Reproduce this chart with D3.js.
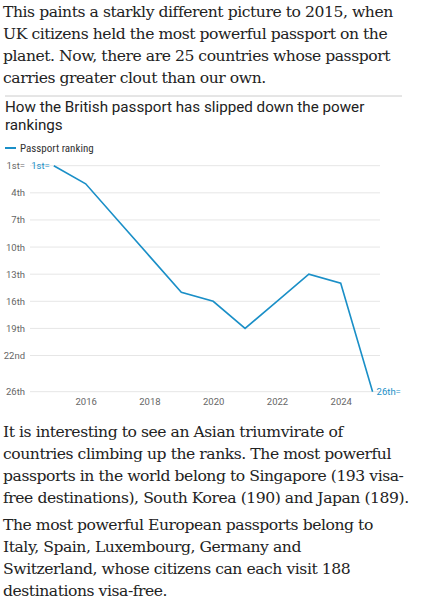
<!DOCTYPE html>
<html><head><meta charset="utf-8">
<script src="https://cdn.jsdelivr.net/npm/d3@7"></script>
<style>
body{margin:0;background:#fff;width:428px;height:600px;overflow:hidden;position:relative}
.p{position:absolute;left:3px;font-family:"DejaVu Serif",serif;font-size:15.6px;line-height:22px;color:#222;white-space:nowrap;letter-spacing:-0.45px}
</style></head><body>
<div class="p" style="top:1px">This paints a starkly different picture to 2015, when<br>UK citizens held the most powerful passport on the<br>planet. Now, there are 25 countries whose passport<br>carries greater clout than our own.</div>
<div id="chart" style="position:absolute;left:0;top:92px"></div>
<div class="p" style="top:421px">It is interesting to see an Asian triumvirate of<br>countries climbing up the ranks. The most powerful<br>passports in the world belong to Singapore (193 visa-<br>free destinations), South Korea (190) and Japan (189).</div>
<div class="p" style="top:514px">The most powerful European passports belong to<br>Italy, Spain, Luxembourg, Germany and<br>Switzerland, whose citizens can each visit 188<br>destinations visa-free.</div>
<script>
const years = [2015, 2016, 2017, 2018, 2019, 2020, 2021, 2022, 2023, 2024, 2025];
const ranks = [1, 3, 7, 11, 15, 16, 19, 16, 13, 14, 26];
const rankTicks = [1, 4, 7, 10, 13, 16, 19, 22, 26];
const rankLabels = ["1st=", "4th", "7th", "10th", "13th", "16th", "19th", "22nd", "26th"];
const yearTicks = [2016, 2018, 2020, 2022, 2024];

const svg = d3.select("#chart").append("svg").attr("width", 428).attr("height", 330);
const blue = "#1a8fc7";
svg.append("line").attr("x1", 5).attr("x2", 402).attr("y1", 4).attr("y2", 4).attr("stroke", "#ccc");
svg.append("text").attr("x", 5).attr("y", 20).attr("font-family", "Roboto").attr("font-size", 15.2).attr("fill", "#222").text("How the British passport has slipped down the power");
svg.append("text").attr("x", 5).attr("y", 38).attr("font-family", "Roboto").attr("font-size", 15.2).attr("fill", "#222").text("rankings");
svg.append("line").attr("x1", 5).attr("x2", 16).attr("y1", 56).attr("y2", 56).attr("stroke", blue).attr("stroke-width", 2);
svg.append("text").attr("x", 20).attr("y", 60).attr("font-family", "Roboto Condensed, Roboto").attr("font-size", 11).attr("fill", "#333").text("Passport ranking");

const x = d3.scaleLinear().domain([2015, 2025]).range([53.8, 372.6]);
const y = d3.scaleLinear().domain([1, 26]).range([73.7, 299.7]);

const grid = svg.append("g");
grid.selectAll("line").data(rankTicks).join("line")
  .attr("x1", 30).attr("x2", 380).attr("y1", d => y(d)).attr("y2", d => y(d))
  .attr("stroke", "#e6e6e6");
grid.selectAll("text").data(rankTicks).join("text")
  .attr("x", 25).attr("y", d => y(d) + 3.5).attr("text-anchor", "end")
  .attr("font-family", "Roboto").attr("font-size", 9.5).attr("fill", "#666")
  .text((d, i) => rankLabels[i]);

const xAxis = d3.axisBottom(x).tickValues(yearTicks).tickFormat(d3.format("d")).tickSize(0);
svg.append("g").attr("transform", `translate(0,${y(26) + 4})`).call(xAxis)
  .call(g => g.select(".domain").remove())
  .call(g => g.selectAll("text").attr("font-family", "Roboto").attr("font-size", 9.5).attr("fill", "#666"));

svg.append("path").datum(years.map((d, i) => [d, ranks[i]]))
  .attr("d", d3.line().x(d => x(d[0])).y(d => y(d[1])))
  .attr("fill", "none").attr("stroke", blue).attr("stroke-width", 1.6);

svg.append("text").attr("x", x(2015) - 4).attr("y", y(1) + 3.5).attr("text-anchor", "end")
  .attr("font-family", "Roboto").attr("font-size", 9.5).attr("fill", blue).text("1st=");
svg.append("text").attr("x", x(2025) + 4).attr("y", y(26) + 3.5)
  .attr("font-family", "Roboto").attr("font-size", 9.5).attr("fill", blue).text("26th=");
</script>
</body></html>
